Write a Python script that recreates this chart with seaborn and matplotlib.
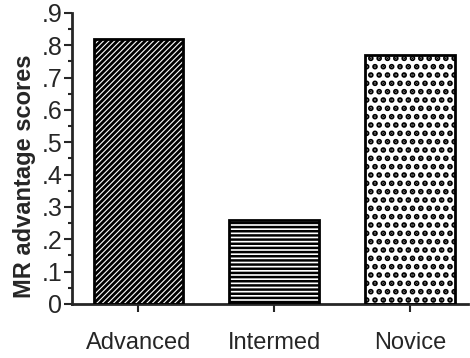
import matplotlib
matplotlib.use('Agg')
import matplotlib.pyplot as plt
from matplotlib.patches import Rectangle
import seaborn as sns
import pandas as pd
import numpy as np

# data
groups = ['Advanced', 'Intermed', 'Novice']
scores = [0.82, 0.26, 0.77]
ytick_vals = [0, 0.1, 0.2, 0.3, 0.4, 0.5, 0.6, 0.7, 0.8, 0.9]
ytick_labels = ['0', '.1', '.2', '.3', '.4', '.5', '.6', '.7', '.8', '.9']

df = pd.DataFrame({'group': groups, 'score': scores})

sns.set_style('ticks')
plt.rcParams['font.family'] = ['Liberation Sans', 'DejaVu Sans']
plt.rcParams['hatch.linewidth'] = 1.0

fig = plt.figure(figsize=(4.7, 3.58), dpi=100)
ax = fig.add_axes([0.153, 0.151, 0.843, 0.813])

sns.barplot(data=df, x='group', y='score', width=0.66, color='white', ax=ax)

# fill / hatch styles per bar: face, hatch colour, hatch, hatch width
styles = [('black', 'white', '//////', 0.8),
          ('white', 'black', '----', 1.8),
          ('white', 'black', '..', 2.8)]
for p, (fc, hc, h, hw) in zip(list(ax.patches), styles):
    p.set_facecolor(fc)
    p.set_edgecolor(hc)
    p.set_hatch(h)
    p.set_linewidth(0)
    if hasattr(p, 'set_hatch_linewidth'):
        p.set_hatch_linewidth(hw)
    ax.add_patch(Rectangle(p.get_xy(), p.get_width(), p.get_height(),
                           fill=False, edgecolor='black', linewidth=2, zorder=3))

ax.set_xlim(-0.49, 2.43)
ax.set_ylim(0, 0.9)
ax.set_yticks(ytick_vals)
ax.set_yticklabels(ytick_labels, fontsize=18)
ax.set_yticks(np.arange(0.05, 0.9, 0.1), minor=True)
ax.tick_params(axis='y', which='major', length=6, width=1.5, pad=1)
ax.tick_params(axis='y', which='minor', length=3, width=1.5)
ax.tick_params(axis='x', length=6, width=1.5, labelsize=17, pad=14)

ax.set_xlabel('')
ax.set_ylabel('MR advantage scores', fontsize=17, fontweight='bold')
ax.yaxis.set_label_coords(-0.09, 0.44)

sns.despine(ax=ax)
for s in ['left', 'bottom']:
    ax.spines[s].set_linewidth(2)

fig.savefig('out.png', dpi=100)
